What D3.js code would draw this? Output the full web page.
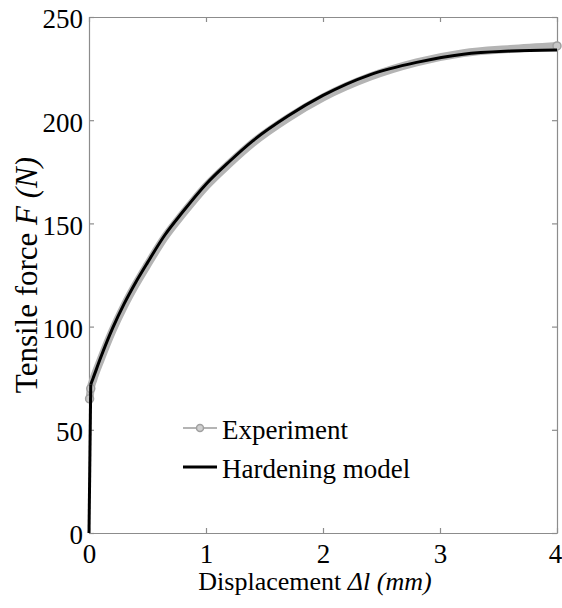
<!DOCTYPE html>
<html>
<head>
<meta charset="utf-8">
<script src="https://cdn.jsdelivr.net/npm/d3@7"></script>
<style>
  html, body { margin: 0; padding: 0; background: #fff; }
  svg text { font-family: "Liberation Serif", "Times New Roman", serif; fill: #000; }
</style>
</head>
<body>
<svg id="chart" width="562" height="608"></svg>
<script>
// ---- data ----
const modelX = [0, 0.015, 0.035, 0.1, 0.2, 0.3, 0.4, 0.5, 0.65, 0.8, 1.0, 1.2, 1.4, 1.7, 2.0, 2.4, 2.8, 3.2, 3.6, 4.0];
const modelF = [0, 72, 75, 85, 99, 111, 121.5, 131, 144.5, 155.5, 169, 180, 190, 202, 212, 222, 228, 232, 233.5, 234];
const expX = [0.005, 0.015, 0.035, 0.1, 0.2, 0.3, 0.4, 0.5, 0.65, 0.8, 1.0, 1.2, 1.4, 1.7, 2.0, 2.4, 2.8, 3.2, 3.6, 4.0];
const expF = [65, 70, 74, 84, 98, 110, 120.5, 130, 143.5, 154.5, 168, 179, 189, 201, 211, 221, 228, 232.5, 234.5, 236];
const expMarkerIdx = [0, 1, 19];
const xTicks = [0, 1, 2, 3, 4];
const yTicks = [0, 50, 100, 150, 200, 250];
const legendLabels = ["Experiment", "Hardening model"];

const svg = d3.select("#chart");
const x = d3.scaleLinear().domain([0, 4]).range([89, 557]);
const y = d3.scaleLinear().domain([0, 250]).range([533, 17]);

const axisColor = "#8c8c8c";
function styleAxis(g) {
  g.selectAll("path.domain").attr("stroke", axisColor).attr("stroke-width", 1.2);
  g.selectAll(".tick line").attr("stroke", axisColor).attr("stroke-width", 1.2);
  g.selectAll(".tick text").attr("font-family", "Liberation Serif").attr("font-size", 27).attr("fill", "#000");
}

// axes
const gx = svg.append("g").attr("transform", "translate(0,533)")
  .call(d3.axisBottom(x).tickValues(xTicks).tickFormat(d3.format("d")).tickSize(-5).tickSizeOuter(0).tickPadding(11))
  .call(styleAxis);
gx.selectAll(".tick text").filter(d => d === 4).attr("dx", "-2");
svg.append("g").attr("transform", "translate(0,17)")
  .call(d3.axisTop(x).tickValues(xTicks).tickFormat("").tickSize(-5).tickSizeOuter(0))
  .call(styleAxis);
svg.append("g").attr("transform", "translate(89,0)")
  .call(d3.axisLeft(y).tickValues(yTicks).tickFormat(d3.format("d")).tickSize(-5).tickSizeOuter(0).tickPadding(6))
  .call(styleAxis)
  .selectAll(".tick text").attr("dy", "0.4em");
svg.append("g").attr("transform", "translate(557,0)")
  .call(d3.axisRight(y).tickValues(yTicks).tickFormat("").tickSize(-5).tickSizeOuter(0))
  .call(styleAxis);

// experiment
const expData = expX.map((d, i) => [d, expF[i]]);
const modelData = modelX.map((d, i) => [d, modelF[i]]);
const line = d3.line().x(d => x(d[0])).y(d => y(d[1])).curve(d3.curveMonotoneX);
const lineV = d3.line().x(d => x(d[0])).y(d => y(d[1])).curve(d3.curveLinear);

svg.append("path").datum(expData)
  .attr("d", line).attr("fill", "none")
  .attr("stroke", "#b4b4b4").attr("stroke-width", 8).attr("stroke-linecap", "round");
svg.selectAll("circle.exp").data(expMarkerIdx.map(i => expData[i])).enter()
  .append("circle").attr("class", "exp")
  .attr("cx", d => x(d[0])).attr("cy", d => y(d[1])).attr("r", 4)
  .attr("fill", "#c8c8c8").attr("stroke", "#a0a0a0").attr("stroke-width", 1.5);

// model
svg.append("path").datum(modelData.slice(0, 2))
  .attr("d", lineV).attr("fill", "none").attr("stroke", "#000").attr("stroke-width", 3);
svg.append("path").datum(modelData.slice(1))
  .attr("d", line).attr("fill", "none").attr("stroke", "#000").attr("stroke-width", 3);

// legend
const lg = svg.append("g");
lg.append("line").attr("x1", 183).attr("x2", 217).attr("y1", 428).attr("y2", 428)
  .attr("stroke", "#b4b4b4").attr("stroke-width", 2);
lg.append("circle").attr("cx", 200).attr("cy", 428).attr("r", 3.5)
  .attr("fill", "#d0d0d0").attr("stroke", "#a0a0a0").attr("stroke-width", 1.5);
lg.append("line").attr("x1", 183).attr("x2", 217).attr("y1", 467).attr("y2", 467)
  .attr("stroke", "#000").attr("stroke-width", 3);
lg.append("text").attr("x", 222).attr("y", 439).attr("font-size", 27).text(legendLabels[0]);
lg.append("text").attr("x", 222).attr("y", 478).attr("font-size", 27).text(legendLabels[1]);

// axis titles
const xt = svg.append("text").attr("x", 315).attr("y", 590).attr("text-anchor", "middle").attr("font-size", 26);
xt.append("tspan").text("Displacement ");
xt.append("tspan").attr("font-style", "italic").text("Δl (mm)");

const yt = svg.append("text").attr("transform", "translate(37,275) rotate(-90)").attr("text-anchor", "middle").attr("font-size", 31);
yt.append("tspan").text("Tensile force  ");
yt.append("tspan").attr("font-style", "italic").text("F (N)");
</script>
</body>
</html>
